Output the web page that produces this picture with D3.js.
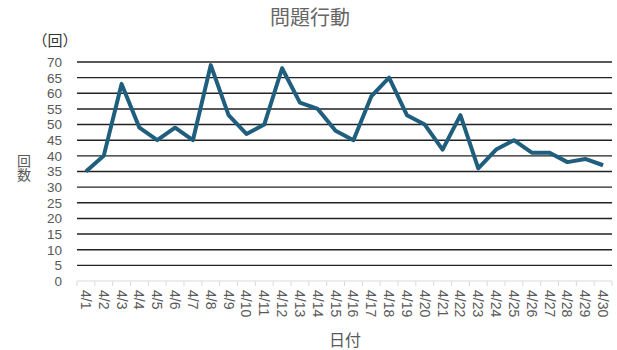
<!DOCTYPE html>
<html>
<head>
<meta charset="utf-8">
<script src="https://cdn.jsdelivr.net/npm/d3@7"></script>
<style>
  body { margin: 0; background: #fff; }
  text { font-family: "Liberation Sans", "Noto Sans CJK JP", sans-serif; fill: #595959; }
</style>
</head>
<body>
<script>
// data
const days = ["4/1","4/2","4/3","4/4","4/5","4/6","4/7","4/8","4/9","4/10",
  "4/11","4/12","4/13","4/14","4/15","4/16","4/17","4/18","4/19","4/20",
  "4/21","4/22","4/23","4/24","4/25","4/26","4/27","4/28","4/29","4/30"];
const counts = [35, 40, 63, 49, 45, 49, 45, 69, 53, 47,
  50, 68, 57, 55, 48, 45, 59, 65, 53, 50,
  42, 53, 36, 42, 45, 41, 41, 38, 39, 37];
const yTicks = d3.range(0, 71, 5);

const width = 617, height = 350;
const margin = { top: 62, right: 5, bottom: 69, left: 77 };

const svg = d3.select("body").append("svg")
  .attr("width", width)
  .attr("height", height);

const x = d3.scaleBand().domain(days).range([margin.left, width - margin.right]);
const y = d3.scaleLinear().domain([0, 70]).range([height - margin.bottom, margin.top]);

// gridlines
svg.append("g")
  .selectAll("line")
  .data(yTicks.filter(d => d > 0))
  .enter().append("line")
  .attr("x1", margin.left)
  .attr("x2", width - margin.right)
  .attr("y1", d => y(d))
  .attr("y2", d => y(d))
  .attr("stroke", "#222")
  .attr("stroke-width", 1.4);

// y axis labels
svg.append("g")
  .selectAll("text")
  .data(yTicks)
  .enter().append("text")
  .attr("x", 62)
  .attr("y", d => y(d))
  .attr("dy", "0.36em")
  .attr("text-anchor", "end")
  .style("font-size", "13.5px")
  .text(d => d);

// x axis line and ticks at category boundaries
const xAxis = svg.append("g");
xAxis.append("line")
  .attr("x1", margin.left).attr("x2", width - margin.right)
  .attr("y1", y(0)).attr("y2", y(0))
  .attr("stroke", "#d9d9d9").attr("stroke-width", 1);
xAxis.selectAll("line.tick")
  .data(days.concat(["end"]))
  .enter().append("line")
  .attr("class", "tick")
  .attr("x1", (d, i) => margin.left + i * x.step())
  .attr("x2", (d, i) => margin.left + i * x.step())
  .attr("y1", y(0)).attr("y2", y(0) + 5)
  .attr("stroke", "#d9d9d9");

// x labels rotated
xAxis.selectAll("text")
  .data(days)
  .enter().append("text")
  .attr("transform", d => `translate(${x(d) + x.bandwidth() / 2},${y(0) + 9}) rotate(90)`)
  .attr("dy", "0.36em")
  .attr("text-anchor", "start")
  .style("font-size", "14px")
  .text(d => d);

// line
const line = d3.line()
  .x((d, i) => x(days[i]) + x.bandwidth() / 2)
  .y(d => y(d));

svg.append("path")
  .datum(counts)
  .attr("d", line)
  .attr("fill", "none")
  .attr("stroke", "#1f5f7d")
  .attr("stroke-width", 4)
  .attr("stroke-linejoin", "round");

// title
svg.append("text")
  .attr("x", 310)
  .attr("y", 25)
  .attr("text-anchor", "middle")
  .style("font-size", "20px")
  .style("font-family", "Noto Sans CJK JP")
  .style("fill", "#666")
  .text("問題行動");

// unit
svg.append("text")
  .attr("x", 55)
  .attr("y", 46)
  .attr("text-anchor", "middle")
  .style("font-size", "15px")
  .style("font-family", "Noto Sans CJK JP")
  .style("fill", "#333")
  .text("（回）");

// y title, written vertically
svg.append("text")
  .attr("x", 24)
  .attr("y", 168)
  .attr("text-anchor", "middle")
  .style("writing-mode", "vertical-rl")
  .style("font-size", "14px")
  .style("font-family", "Noto Sans CJK JP")
  .text("回数");

// x title
svg.append("text")
  .attr("x", 345)
  .attr("y", 346)
  .attr("text-anchor", "middle")
  .style("font-size", "16px")
  .style("font-family", "Noto Sans CJK JP")
  .text("日付");
</script>
</body>
</html>
